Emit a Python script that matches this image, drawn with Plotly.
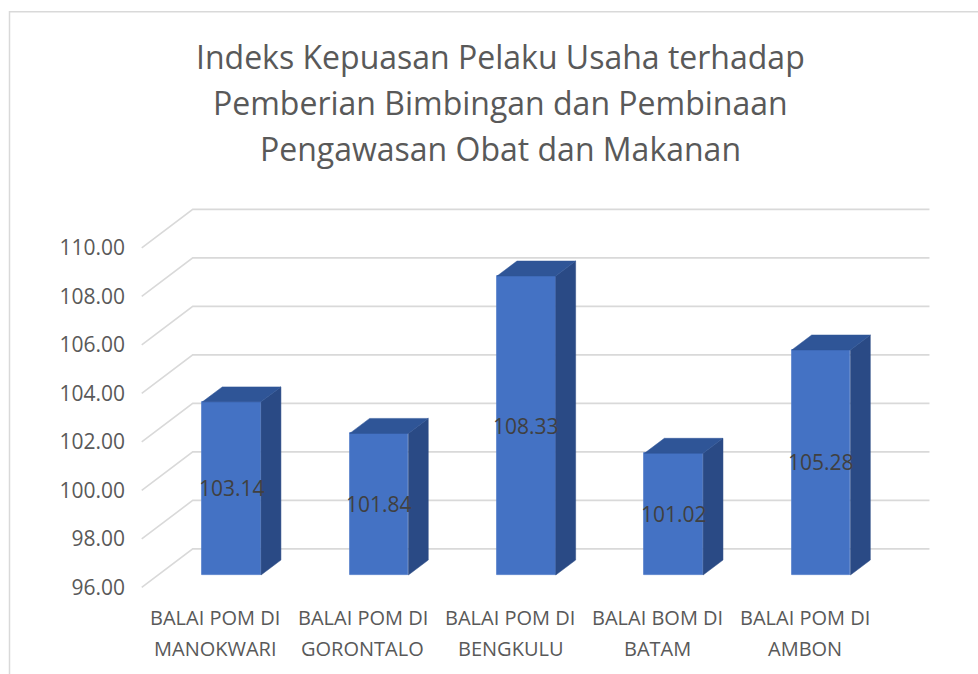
import plotly.graph_objects as go

# ---------------- data ----------------
categories = [
    "BALAI POM DI\nMANOKWARI",
    "BALAI POM DI\nGORONTALO",
    "BALAI POM DI\nBENGKULU",
    "BALAI BOM DI\nBATAM",
    "BALAI POM DI\nAMBON",
]
values = [103.14, 101.84, 108.33, 101.02, 105.28]
y_ticks = [96, 98, 100, 102, 104, 106, 108, 110]
y_tick_labels = [f"{v:.2f}" for v in y_ticks]
title_lines = [
    "Indeks Kepuasan Pelaku Usaha terhadap",
    "Pemberian Bimbingan dan Pembinaan",
    "Pengawasan Obat dan Makanan",
]

# ---------------- geometry / style ----------------
W, H = 978, 674
L, R, T, B = 126, 18, 180, 74
PLOT_W = W - L - R
PLOT_H = H - T - B

PX_CAT = 147.35      # pixels per category
PX_UNIT = 24.25      # pixels per value unit
X0_PX = 215.4        # pixel x of category 0 on the front plane
Y0_PX = 587.3        # pixel y of the floor on the front plane
DEPTH_DX = 51 / PX_CAT
DEPTH_DY = 38.4 / PX_UNIT
BAR_W = 0.398
BAR_D0, BAR_D1 = 0.32, 0.71
Y_MIN = y_ticks[0]

FRONT = "#4472C4"
TOP = "#2F5597"
SIDE = "#2A4A85"
GRID = "#D9D9D9"
TXT = "#595959"
FONT = "Open Sans"

x_range = [(L - X0_PX) / PX_CAT, (W - R - X0_PX) / PX_CAT]
y_range = [Y_MIN - (H - B - Y0_PX) / PX_UNIT, Y_MIN + (Y0_PX - T) / PX_UNIT]


def proj(c, v, d):
    return c + d * DEPTH_DX, v + d * DEPTH_DY


def px_to_paper_x(px):
    return (px - L) / PLOT_W


def px_to_paper_y(py):
    return (H - B - py) / PLOT_H


n = len(categories)
fig = go.Figure()
shapes = []

# gridlines (3D walls), drawn below all traces
for v in y_ticks:
    pts = [proj(c, v, d) for c, d in [(-0.5, 0), (-0.5, 1), (n - 0.5, 1)]]
    path = "M " + " L ".join(f"{x} {y}" for x, y in pts)
    shapes.append(dict(type="path", xref="x", yref="y", path=path, layer="below",
                       line=dict(color=GRID, width=1.6)))

# side and top faces
for i, v in enumerate(values):
    hw = BAR_W / 2
    side = [proj(i + hw, Y_MIN, BAR_D0), proj(i + hw, Y_MIN, BAR_D1),
            proj(i + hw, v, BAR_D1), proj(i + hw, v, BAR_D0)]
    top = [proj(i - hw, v, BAR_D0), proj(i + hw, v, BAR_D0),
           proj(i + hw, v, BAR_D1), proj(i - hw, v, BAR_D1)]
    for pts, col in [(side, SIDE), (top, TOP)]:
        fig.add_trace(go.Scatter(
            x=[p[0] for p in pts] + [pts[0][0]],
            y=[p[1] for p in pts] + [pts[0][1]],
            mode="lines", fill="toself", fillcolor=col,
            line=dict(color=col, width=0.5),
            hoverinfo="skip", showlegend=False))

# front faces
fx = [proj(i, Y_MIN, BAR_D0)[0] for i in range(n)]
base = proj(0, Y_MIN, BAR_D0)[1]
fig.add_trace(go.Bar(
    x=fx, y=[v - Y_MIN for v in values], base=[base] * n,
    width=BAR_W, marker=dict(color=FRONT, line=dict(color="#4F7BC8", width=0.8)),
    hoverinfo="skip", showlegend=False))

annotations = []
# data labels
for i, v in enumerate(values):
    x, y = proj(i, (Y_MIN + v) / 2, BAR_D0)
    annotations.append(dict(x=x, y=y, xref="x", yref="y", text=f"{v:.2f}",
                            showarrow=False, font=dict(family=FONT, size=21, color="#404040")))

# category labels
for i, cat in enumerate(categories):
    for j, line in enumerate(cat.split("\n")):
        annotations.append(dict(x=i, y=px_to_paper_y(617 + 31 * j), xref="x", yref="paper",
                                text=line, showarrow=False, yanchor="middle",
                                font=dict(family=FONT, size=20, color=TXT)))

# title
for j, line in enumerate(title_lines):
    annotations.append(dict(x=px_to_paper_x(500), y=px_to_paper_y(57 + 45.5 * j),
                            xref="paper", yref="paper", text=line, showarrow=False,
                            yanchor="middle", xanchor="center",
                            font=dict(family=FONT, size=32, color=TXT)))

# chart border
shapes.append(dict(type="path", xref="paper", yref="paper",
                   path=f"M {px_to_paper_x(9.5)} {px_to_paper_y(H + 5)} "
                        f"L {px_to_paper_x(9.5)} {px_to_paper_y(11.7)} "
                        f"L {px_to_paper_x(W + 5)} {px_to_paper_y(11.7)}",
                   line=dict(color=GRID, width=1.5)))

fig.update_layout(
    width=W, height=H, autosize=False,
    margin=dict(l=L, r=R, t=T, b=B, pad=0),
    paper_bgcolor="white", plot_bgcolor="white",
    font=dict(family=FONT, color=TXT),
    annotations=annotations, shapes=shapes,
    bargap=0,
    xaxis=dict(range=x_range, showgrid=False, zeroline=False, showticklabels=False,
               showline=False, ticks="", fixedrange=True),
    yaxis=dict(range=y_range, showgrid=False, zeroline=False, showline=False,
               tickvals=y_ticks, ticktext=y_tick_labels, ticks="",
               tickfont=dict(family=FONT, size=21, color=TXT), fixedrange=True),
    showlegend=False,
)

fig.write_html("out.html", config={"displayModeBar": False},
               post_script="document.body.style.margin='0';document.body.style.overflow='hidden';")
